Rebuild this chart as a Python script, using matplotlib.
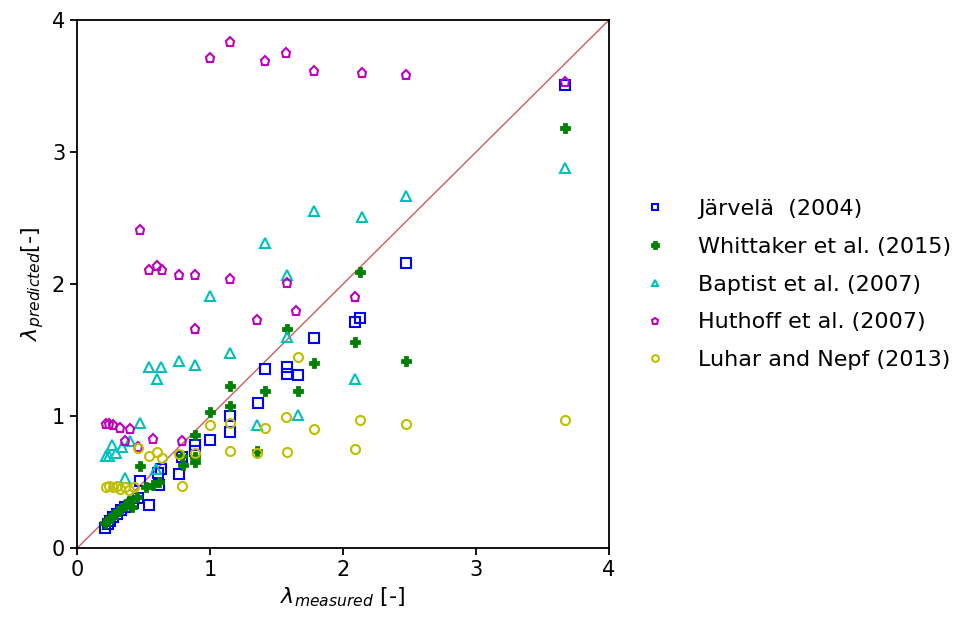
import matplotlib
matplotlib.use("Agg")
import matplotlib.pyplot as plt

# Järvelä (2004)
jarvela_x = [0.21, 0.23, 0.25, 0.27, 0.30, 0.33, 0.36, 0.42, 0.46, 0.47, 0.54, 0.61, 0.62, 0.63, 0.77,
             0.79, 0.89, 0.89, 1.00, 1.15, 1.15, 1.36, 1.41, 1.58, 1.58, 1.66, 1.78, 2.09, 2.13, 2.47, 3.67]
jarvela_y = [0.15, 0.18, 0.21, 0.24, 0.26, 0.29, 0.31, 0.34, 0.38, 0.51, 0.33, 0.57, 0.48, 0.60, 0.56,
             0.69, 0.78, 0.74, 0.82, 1.00, 0.88, 1.10, 1.36, 1.37, 1.32, 1.31, 1.59, 1.71, 1.74, 2.16, 3.51]

# Whittaker et al. (2015)
whittaker_x = [0.21, 0.23, 0.25, 0.27, 0.29, 0.31, 0.33, 0.36, 0.39, 0.41, 0.45, 0.47, 0.52, 0.57, 0.62,
               0.79, 0.80, 0.89, 0.89, 0.89, 1.00, 1.15, 1.15, 1.35, 1.41, 1.58, 1.66, 1.78, 2.09, 2.13,
               2.47, 3.67]
whittaker_y = [0.19, 0.21, 0.23, 0.25, 0.26, 0.28, 0.30, 0.33, 0.36, 0.31, 0.39, 0.62, 0.46, 0.48, 0.50,
               0.70, 0.63, 0.86, 0.69, 0.65, 1.03, 1.23, 1.08, 0.74, 1.19, 1.66, 1.19, 1.40, 1.56, 2.09,
               1.42, 3.18]

# Baptist et al. (2007)
baptist_x = [0.22, 0.24, 0.26, 0.29, 0.34, 0.40, 0.47, 0.36, 0.59, 0.54, 0.60, 0.63, 0.77, 0.89, 1.00,
             1.15, 1.35, 1.41, 1.58, 1.58, 1.66, 1.78, 2.09, 2.14, 2.47, 3.67]
baptist_y = [0.70, 0.70, 0.78, 0.72, 0.77, 0.81, 0.95, 0.53, 0.60, 1.37, 1.28, 1.37, 1.42, 1.39, 1.91,
             1.48, 0.93, 2.31, 2.07, 1.60, 1.01, 2.55, 1.28, 2.51, 2.67, 2.88]

# Huthoff et al. (2007)
huthoff_x = [0.22, 0.24, 0.27, 0.32, 0.36, 0.40, 0.46, 0.47, 0.54, 0.57, 0.60, 0.64, 0.77, 0.79, 0.89,
             0.89, 1.00, 1.15, 1.15, 1.35, 1.41, 1.57, 1.58, 1.65, 1.78, 2.09, 2.14, 2.47, 3.67]
huthoff_y = [0.94, 0.94, 0.93, 0.91, 0.81, 0.90, 0.77, 2.41, 2.11, 0.83, 2.14, 2.11, 2.07, 0.81, 2.07,
             1.66, 3.71, 3.83, 2.04, 1.73, 3.69, 3.75, 2.01, 1.80, 3.61, 1.90, 3.60, 3.58, 3.53]

# Luhar and Nepf (2013)
luhar_x = [0.22, 0.24, 0.27, 0.30, 0.32, 0.36, 0.39, 0.43, 0.46, 0.54, 0.60, 0.64, 0.77, 0.79, 0.89,
           1.00, 1.15, 1.15, 1.35, 1.41, 1.57, 1.58, 1.66, 1.78, 2.09, 2.13, 2.47, 3.67]
luhar_y = [0.46, 0.47, 0.46, 0.47, 0.45, 0.46, 0.44, 0.46, 0.76, 0.70, 0.73, 0.68, 0.71, 0.47, 0.72,
           0.93, 0.95, 0.74, 0.72, 0.91, 0.99, 0.73, 1.45, 0.90, 0.75, 0.97, 0.94, 0.97]

fig = plt.figure(figsize=(9.69, 6.23), dpi=100)
ax = fig.add_axes([0.0795, 0.120, 0.549, 0.848])

# 1:1 line
ax.plot([0, 4], [0, 4], color='indianred', lw=1)

ax.plot(jarvela_x, jarvela_y, 's', color='b', fillstyle='none', ms=6.5, mew=1.5, label='Järvelä  (2004)')
ax.plot(whittaker_x, whittaker_y, 'P', color='g', fillstyle='none', ms=6, mew=2, label='Whittaker et al. (2015)')
ax.plot(baptist_x, baptist_y, '^', color='c', fillstyle='none', ms=6.5, mew=1.5, label='Baptist et al. (2007)')
ax.plot(huthoff_x, huthoff_y, 'p', color='m', fillstyle='none', ms=6.5, mew=1.5, label='Huthoff et al. (2007)')
ax.plot(luhar_x, luhar_y, 'o', color='y', fillstyle='none', ms=6.5, mew=1.5, label='Luhar and Nepf (2013)')

ax.set_xlim(0, 4)
ax.set_ylim(0, 4)
ax.set_xticks([0, 1, 2, 3, 4])
ax.set_yticks([0, 1, 2, 3, 4])
for s in ax.spines.values():
    s.set_linewidth(1.3)
ax.tick_params(labelsize=15, width=1.3, length=5)
ax.set_xlabel(r'$\lambda_{measured}$ [-]', fontsize=16, labelpad=4)
ax.set_ylabel(r'$\lambda_{predicted}$[-]', fontsize=16, labelpad=4)

fig.legend(loc='center left', bbox_to_anchor=(0.644, 0.543), frameon=False,
           fontsize=16, markerscale=0.75, labelspacing=0.8, handletextpad=1.45,
           handlelength=1.0)

fig.savefig('out.png', dpi=100)
